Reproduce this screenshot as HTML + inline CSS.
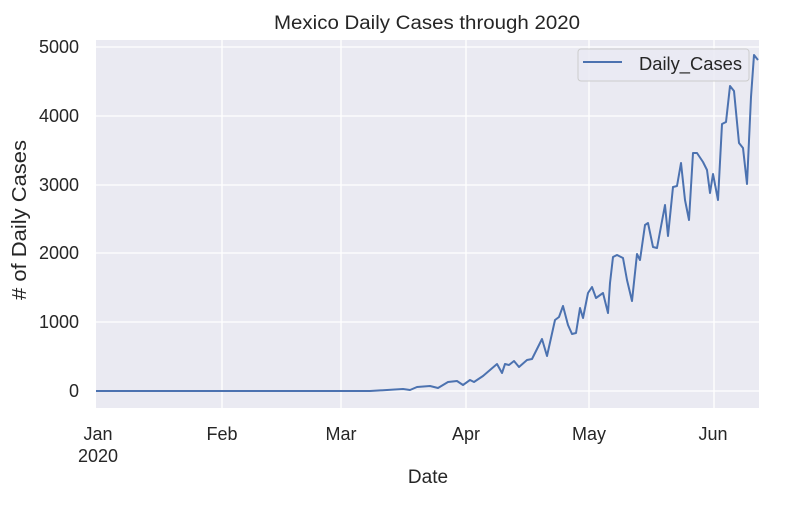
<!DOCTYPE html>
<html><head><meta charset="utf-8"><style>body{margin:0;background:#fff}</style></head><body>
<svg width="790" height="502" xmlns="http://www.w3.org/2000/svg" font-family="Liberation Sans, Arial, sans-serif" fill="#262626">
<rect width="790" height="502" fill="#fff"/>
<rect x="96" y="40" width="663" height="368" fill="#eaeaf2"/>
<g stroke="#fff" stroke-width="1.3">
<line x1="96" y1="47" x2="759" y2="47"/>
<line x1="96" y1="116" x2="759" y2="116"/>
<line x1="96" y1="185" x2="759" y2="185"/>
<line x1="96" y1="253" x2="759" y2="253"/>
<line x1="96" y1="322" x2="759" y2="322"/>
<line x1="96" y1="391" x2="759" y2="391"/>
<line x1="222" y1="40" x2="222" y2="408"/>
<line x1="341" y1="40" x2="341" y2="408"/>
<line x1="466" y1="40" x2="466" y2="408"/>
<line x1="589" y1="40" x2="589" y2="408"/>
<line x1="714" y1="40" x2="714" y2="408"/>
</g>
<polyline fill="none" stroke="#4c72b0" stroke-width="2" stroke-linejoin="round" points="96,391 370,391 403,389 410,390 417,387 430,386 438,388 448,382 457,381 463,385 470,380 474,382 483,376 497,364 502,373 505,364 509,365 514,361 519,367 527,360 532,359 536,351 542,339 547,356 555,320 559,317 563,306 568,325 572,334 576,333 580,308 583,318 588,293 592,287 596,298 603,293 608,313 610,283 613,257 617,255 623,258 627,280 632,301 637,254 640,260 645,225 648,223 653,247 657,248 665,205 668,236 673,187 677,186 681,163 685,200 689,220 693,153 697,153 703,162 707,170 710,193 713,174 718,200 722,124 726,122 730,86 734,91 739,143 743,148 747,184 751,97 754,55 758,60"/>
<rect x="578" y="49" width="171" height="32" rx="3" fill="#eaeaf2" fill-opacity="0.8" stroke="#ccc"/>
<line x1="583" y1="62" x2="622" y2="62" stroke="#4c72b0" stroke-width="2"/>
<text x="639" y="70" font-size="18" textLength="103" lengthAdjust="spacingAndGlyphs">Daily_Cases</text>
<text x="427" y="29" font-size="19" text-anchor="middle" textLength="306" lengthAdjust="spacingAndGlyphs">Mexico Daily Cases through 2020</text>
<g font-size="18" text-anchor="end">
<text x="79" y="53">5000</text><text x="79" y="122">4000</text><text x="79" y="191">3000</text>
<text x="79" y="259">2000</text><text x="79" y="328">1000</text><text x="79" y="397">0</text>
</g>
<g font-size="18" text-anchor="middle">
<text x="98" y="440">Jan</text><text x="98" y="462">2020</text>
<text x="222" y="440">Feb</text><text x="341" y="440">Mar</text><text x="466" y="440">Apr</text>
<text x="589" y="440">May</text><text x="713" y="440">Jun</text>
<text x="428" y="483" font-size="19">Date</text>
</g>
<text transform="translate(26,220) rotate(-90)" font-size="20" text-anchor="middle" textLength="160" lengthAdjust="spacingAndGlyphs"># of Daily Cases</text>
</svg>
</body></html>
